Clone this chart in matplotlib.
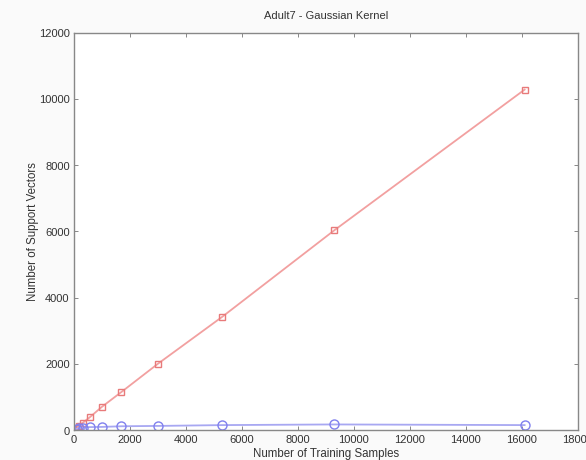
import matplotlib
matplotlib.use("Agg")
import matplotlib.pyplot as plt

plt.rcParams['font.family'] = ['Liberation Sans', 'DejaVu Sans']

# training set sizes and support vector counts
train_sizes = [100, 180, 320, 560, 1000, 1700, 3000, 5300, 9300, 16100]
sv_standard = [70, 125, 220, 380, 700, 1150, 2000, 3420, 6030, 10280]
sv_reduced = [40, 60, 75, 90, 95, 115, 125, 150, 170, 150]

x_ticks = [0, 2000, 4000, 6000, 8000, 10000, 12000, 14000, 16000, 18000]
y_ticks = [0, 2000, 4000, 6000, 8000, 10000, 12000]

fig = plt.figure(figsize=(5.86, 4.605), dpi=100, facecolor='#fafafa')
ax = fig.add_axes([0.126, 0.065, 0.86, 0.863])
ax.set_facecolor('white')

ax.plot(train_sizes, sv_standard, color='#f2a0a0', lw=1.3, marker='s',
        markersize=5, markerfacecolor='none', markeredgecolor='#e87a7a', markeredgewidth=1.0)
ax.plot(train_sizes, sv_reduced, color='#a8a8f2', lw=1.3, marker='o',
        markersize=6.5, markerfacecolor='none', markeredgecolor='#8080ee', markeredgewidth=1.0)

ax.set_xlim(0, 18000)
ax.set_ylim(0, 12000)
ax.set_xticks(x_ticks)
ax.set_yticks(y_ticks)
ax.tick_params(direction='in', length=3, width=0.7, colors='#888888',
               labelcolor='#333333', labelsize=8, top=True, right=True, pad=3)
for s in ax.spines.values():
    s.set_color('#888888')
    s.set_linewidth(1.0)

ax.set_title('Adult7 - Gaussian Kernel', fontsize=8, color='#333333', pad=10)
ax.set_xlabel('Number of Training Samples', fontsize=8.3, color='#333333', labelpad=2)
ax.set_ylabel('Number of Support Vectors', fontsize=8.3, color='#333333', labelpad=0)

fig.savefig('out.png', dpi=100, facecolor=fig.get_facecolor())
